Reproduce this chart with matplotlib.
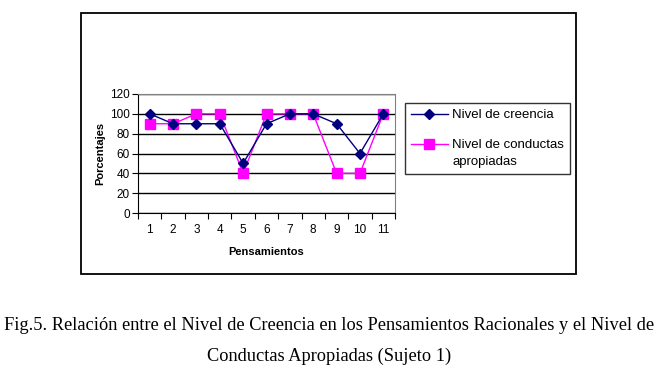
import matplotlib
matplotlib.use("Agg")
import numpy as np
import matplotlib.pyplot as plt
from matplotlib.patches import Rectangle
from matplotlib.legend_handler import HandlerLine2D

categories = [1, 2, 3, 4, 5, 6, 7, 8, 9, 10, 11]
creencia = [100, 90, 90, 90, 50, 90, 100, 100, 90, 60, 100]
conductas = [90, 90, 100, 100, 40, 100, 100, 100, 40, 40, 100]
yticks = [0, 20, 40, 60, 80, 100, 120]
caption = ("Fig.5. Relación entre el Nivel de Creencia en los Pensamientos Racionales y el Nivel de\n"
           "Conductas Apropiadas (Sujeto 1)")

W, H = 658, 380
fig = plt.figure(figsize=(W / 100, H / 100), dpi=100)
plt.rcParams['font.family'] = ['Liberation Sans', 'DejaVu Sans']


class ShiftedHandler(HandlerLine2D):
    def __init__(self, dy=0, **kw):
        super().__init__(**kw)
        self.dy = dy

    def create_artists(self, legend, orig_handle, xdescent, ydescent, width,
                       height, fontsize, trans):
        arts = super().create_artists(legend, orig_handle, xdescent, ydescent,
                                      width, height, fontsize, trans)
        for a in arts:
            y = np.asarray(a.get_ydata(), dtype=float)
            a.set_ydata(y + self.dy)
        return arts


# outer frame
fig.patches.append(Rectangle((81 / W, 1 - 274 / H), (576 - 81) / W, (274 - 13) / H,
                             transform=fig.transFigure, fill=False, edgecolor='black', lw=1.3))

ax = fig.add_axes([138 / W, 1 - 213 / H, (395 - 138) / W, (213 - 94) / H])
ax.set_xlim(0.5, 11.5)
ax.set_ylim(0, 120)
ax.set_yticks(yticks)
ax.yaxis.grid(True, color='black', lw=1)
ax.set_axisbelow(True)
ax.set_xticks([c + 0.5 for c in [0] + categories])
ax.set_xticklabels([])
ax.set_xticks(categories, minor=True)
ax.set_xticklabels([str(c) for c in categories], minor=True)
ax.tick_params(axis='x', which='minor', length=0, pad=8, labelsize=8.5)
ax.tick_params(axis='x', which='major', length=4, direction='out')
ax.tick_params(axis='y', length=4, direction='out', labelsize=8.5, pad=2)
for s in ['top', 'right']:
    ax.spines[s].set_color('#808080')
for s in ['left', 'bottom']:
    ax.spines[s].set_color('black')

l1, = ax.plot(categories, creencia, color='#000080', marker='D', markersize=5.5, lw=1,
              label='Nivel de creencia', zorder=4)
l2, = ax.plot(categories, conductas, color='#FF00FF', marker='s', markersize=7, lw=1,
              label='Nivel de conductas\napropiadas', zorder=3)

ax.set_ylabel('Porcentajes', fontsize=8, fontweight='bold', labelpad=3)
ax.set_xlabel('Pensamientos', fontsize=8, fontweight='bold', labelpad=8)

leg = fig.legend(handles=[l1, l2], loc='upper left',
                 bbox_to_anchor=(405 / W, 1 - 103 / H), fontsize=9.5,
                 frameon=True, fancybox=False, edgecolor='black', borderpad=0.45,
                 handlelength=2.8, labelspacing=1.35, handletextpad=0.35,
                 borderaxespad=0,
                 handler_map={l2: ShiftedHandler(dy=6.6)})
leg.get_frame().set_linewidth(1)
leg.get_texts()[1].set_linespacing(1.55)

fig.text(0.5, 1 - 341 / H, caption, ha='center', va='center',
         fontsize=13.25, family='Liberation Serif', linespacing=2.05)

fig.savefig('out.png', dpi=100, facecolor='white')
